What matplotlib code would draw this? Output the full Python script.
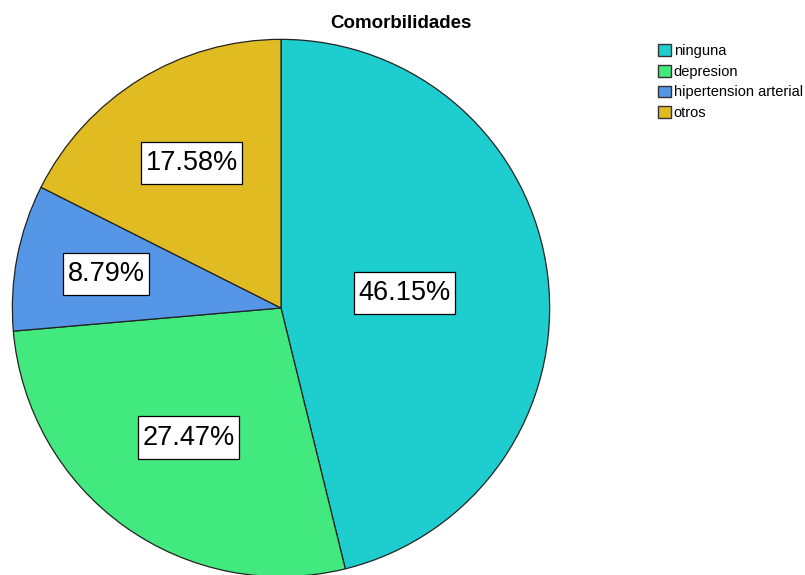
import matplotlib.pyplot as plt
from matplotlib.path import Path
import numpy as np

# Datos
categorias = ["ninguna", "depresion", "hipertension arterial", "otros"]
porcentajes = [46.15, 27.47, 8.79, 17.58]
colores = ["#1ECDCD", "#42E97E", "#5596E6", "#E0BB22"]
dist_etiqueta = [0.46, 0.59, 0.66, 0.63]

plt.rcParams['font.family'] = ['Liberation Sans', 'DejaVu Sans']


# caja rectangular con mas relleno vertical que horizontal
def caja(x0, y0, width, height, mutation_size):
    px, py = 0.16 * mutation_size, 0.3 * mutation_size
    x0, y0 = x0 - px, y0 - py
    x1, y1 = x0 + width + 2 * px, y0 + height + 2 * py
    return Path([(x0, y0), (x1, y0), (x1, y1), (x0, y1), (x0, y0)], closed=True)


fig = plt.figure(figsize=(8.05, 5.75), dpi=100)
W, H = 805, 575
cx, cy, r = 281, 575 - 308, 270
ax = fig.add_axes([(cx - r) / W, (cy - r) / H, 2 * r / W, 2 * r / H])

wedges, _ = ax.pie(porcentajes, colors=colores, startangle=90, counterclock=False,
                   radius=0.995, wedgeprops=dict(edgecolor="#222222", linewidth=0.9))
ax.set_xlim(-1, 1)
ax.set_ylim(-1, 1)
ax.set_aspect("equal")
ax.axis("off")

for w, p, d in zip(wedges, porcentajes, dist_etiqueta):
    ang = np.deg2rad((w.theta1 + w.theta2) / 2)
    ax.text(d * np.cos(ang), d * np.sin(ang), f"{p:.2f}%", ha="center", va="center",
            fontsize=19.5,
            bbox=dict(boxstyle=caja, facecolor="white", edgecolor="black", linewidth=0.9))

fig.text(401 / W, 1 - 24 / H, "Comorbilidades", ha="center", va="center",
         fontsize=13.5, fontweight="bold")

leg = fig.legend(wedges, categorias, loc="upper left", bbox_to_anchor=(651 / W, 1 - 37 / H),
                 frameon=False, fontsize=10.5, handlelength=0.9, handleheight=0.85,
                 handletextpad=0.15, labelspacing=0.45, borderpad=0)
for h in leg.legend_handles:
    h.set_edgecolor("#333333")
    h.set_linewidth(1.0)

plt.savefig("out.png", dpi=100)
